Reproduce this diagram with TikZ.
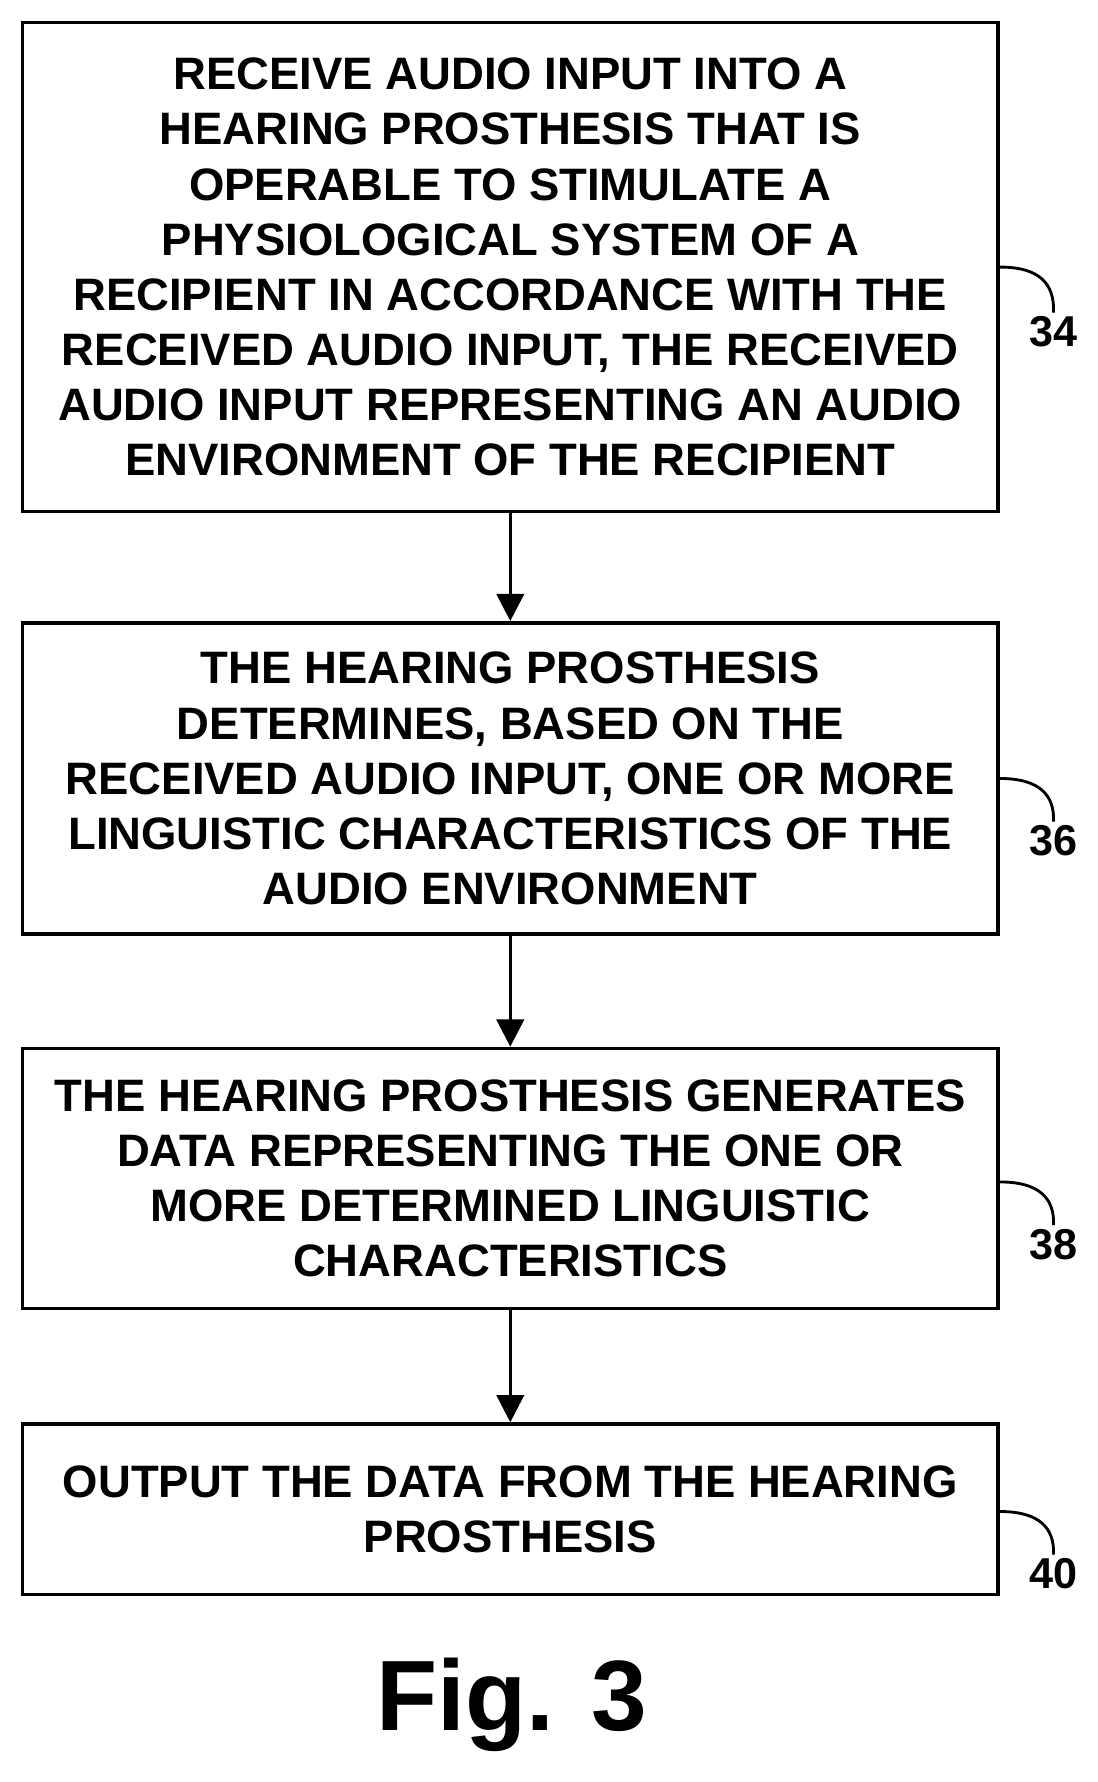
\documentclass[tikz,border=0pt]{standalone}
\usepackage{fontspec}
\setmainfont{Liberation Sans}
\usetikzlibrary{arrows.meta}
\begin{document}
\begin{tikzpicture}[x=1pt,y=-1pt,
  stepbox/.style={draw, line width=3pt, minimum width=858pt, align=center,
    font=\fontsize{40}{48.5}\selectfont\bfseries, inner sep=0pt},
  flow/.style={line width=3pt, -{Triangle[length=24pt,width=24pt]}},
  lead/.style={line width=2.5pt},
  ref/.style={font=\fontsize{38}{40}\selectfont\bfseries}]
        \useasboundingbox (0,0) rectangle (966,1568);
        % Boxes
        \node[stepbox, minimum height=430pt] (s34) at (449,235) {RECEIVE AUDIO INPUT INTO A\\HEARING PROSTHESIS THAT IS\\OPERABLE TO STIMULATE A\\PHYSIOLOGICAL SYSTEM OF A\\RECIPIENT IN ACCORDANCE WITH THE\\RECEIVED AUDIO INPUT, THE RECEIVED\\AUDIO INPUT REPRESENTING AN AUDIO\\ENVIRONMENT OF THE RECIPIENT};
        \node[stepbox, minimum height=274pt] (s36) at (449,685) {THE HEARING PROSTHESIS\\DETERMINES, BASED ON THE\\RECEIVED AUDIO INPUT, ONE OR MORE\\LINGUISTIC CHARACTERISTICS OF THE\\AUDIO ENVIRONMENT};
        \node[stepbox, minimum height=229pt] (s38) at (449,1037) {THE HEARING PROSTHESIS GENERATES\\DATA REPRESENTING THE ONE OR\\MORE DETERMINED LINGUISTIC\\CHARACTERISTICS};
        \node[stepbox, minimum height=150pt] (s40) at (449,1328) {OUTPUT THE DATA FROM THE HEARING\\PROSTHESIS};

        % Arrows
        \draw[flow] (s34) -- (s36);
        \draw[flow] (s36) -- (s38);
        \draw[flow] (s38) -- (s40);

        % Reference numerals
        \node[ref] (n34) at (927,292) {34};
        \node[ref] (n36) at (927,740) {36};
        \node[ref] (n38) at (927,1095) {38};
        \node[ref] (n40) at (927,1385) {40};
        \draw[lead] (880,235) .. controls (915,235) and (928,250) .. (n34.north);
        \draw[lead] (880,685) .. controls (915,685) and (928,700) .. (n36.north);
        \draw[lead] (880,1040) .. controls (915,1040) and (928,1055) .. (n38.north);
        \draw[lead] (880,1330) .. controls (915,1330) and (928,1345) .. (n40.north);

        \node[font=\fontsize{88}{90}\selectfont\bfseries] (fig) at (450,1500) {Fig. 3};
\end{tikzpicture}
\end{document}
